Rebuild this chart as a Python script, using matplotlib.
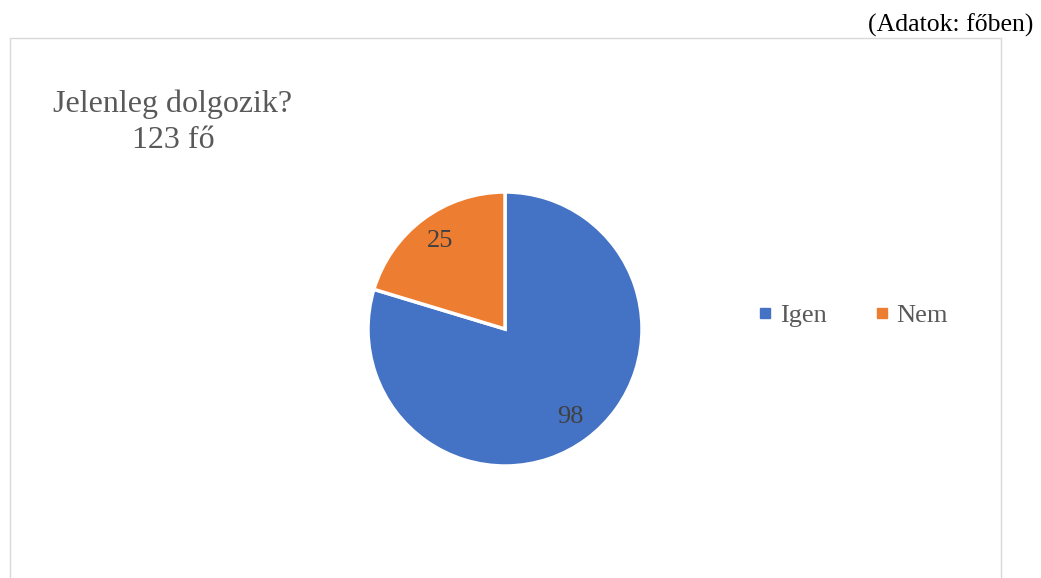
import matplotlib.pyplot as plt
from matplotlib.patches import Rectangle
from matplotlib.lines import Line2D

labels = ["Igen", "Nem"]
values = [98, 25]
colors = ["#4472C4", "#ED7D31"]
title = "Jelenleg dolgozik?\n123 fő"
note = "(Adatok: főben)"

plt.rcParams['font.family'] = ['Liberation Serif', 'DejaVu Serif']

W, H = 1041, 578
fig = plt.figure(figsize=(W / 100, H / 100), dpi=100)

# keret
fig.patches.append(Rectangle((10 / W, -0.1), 991 / W, 1.1 - 38 / H,
                             transform=fig.transFigure, fill=False,
                             edgecolor="#D9D9D9", linewidth=1))

# kör
cx, cy, r = 505 / W, 1 - 329 / H, 137
ax = fig.add_axes([cx - r / W, cy - r / H, 2 * r / W, 2 * r / H])
total = sum(values)
wedges, texts, autotexts = ax.pie(
    values, colors=colors, startangle=90, counterclock=False,
    wedgeprops=dict(edgecolor="white", linewidth=2.5),
    autopct=lambda p: f"{round(p * total / 100)}", pctdistance=0.8,
    textprops=dict(fontsize=19, color="#404040"))
ax.set_xlim(-1, 1)
ax.set_ylim(-1, 1)
ax.set_aspect("equal")
ax.axis("off")

fig.text(173 / W, 1 - 122 / H, title, ha="center", va="center",
         fontsize=23, color="#595959", linespacing=1.3)
fig.text(1033 / W, 1 - 25 / H, note, ha="right", va="center",
         fontsize=18.5, color="black")

handles = [Line2D([], [], marker="s", linestyle="", markersize=7,
                  color=c) for c in colors]
fig.legend(handles, labels, loc="center left",
           bbox_to_anchor=(744 / W, 1 - 315 / H), ncol=2, frameon=False,
           fontsize=19, labelcolor="#595959", handlelength=0.6,
           handletextpad=0.25, columnspacing=1.8, borderpad=0)

fig.savefig("out.png", dpi=100)
